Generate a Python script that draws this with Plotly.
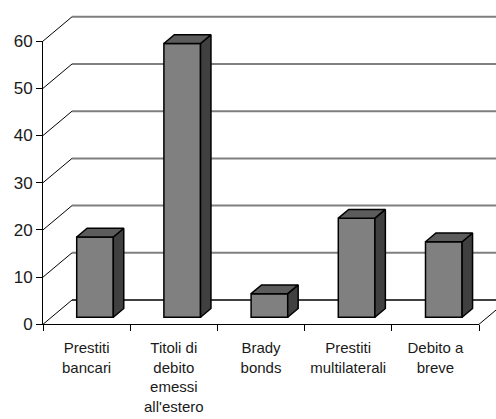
import plotly.graph_objects as go

# Composizione del debito estero
categories = ["Prestiti<br>bancari", "Titoli di<br>debito<br>emessi<br>all'estero",
              "Brady<br>bonds", "Prestiti<br>multilaterali", "Debito a<br>breve"]
values = [17, 58, 5, 21, 16]
y_ticks = [0, 10, 20, 30, 40, 50, 60]

W, H = 496, 419
PX_CAT = 87.2          # pixels per category slot
PX_UNIT = 4.72         # pixels per value unit
X0_PX, Y0_PX = 43, 324.3   # front-left corner of the floor

# oblique depth of the chart box, in data units
DX = 29 / PX_CAT
DY = 24.3 / PX_UNIT
# bar placement inside the depth and its own depth
BAR_D = 0.29
BAR_F = 0.36
BAR_W = 0.42

FRONT = "#808080"
SIDE = "#404040"
TOP = "#5c5c5c"
EDGE = "#000000"
FONT = "Liberation Sans, Arial, sans-serif"

n = len(categories)
fig = go.Figure()
shapes = []

def seg(x0, y0, x1, y1, color, width):
    shapes.append(dict(type="line", xref="x", yref="y", x0=x0, y0=y0, x1=x1, y1=y1,
                       layer="below", line=dict(color=color, width=width)))

# back wall gridlines
for v in y_ticks[1:]:
    seg(DX, v + DY, n + DX + 1, v + DY, "#7f7f7f", 2)
# floor back edge
seg(DX, DY, n + DX + 1, DY, EDGE, 1.5)
# side wall lines
for v in y_ticks:
    seg(0, v, DX, v + DY, EDGE, 1)
# floor right edge
seg(n, 0, n + DX, DY, EDGE, 1)

# bars: side and top faces as polygons, front faces as a bar trace
base = BAR_D * DY
ddx, ddy = BAR_F * DX, BAR_F * DY
centers = [i + 0.5 + BAR_D * DX for i in range(n)]
for c, v in zip(centers, values):
    xl, xr = c - BAR_W / 2, c + BAR_W / 2
    fig.add_trace(go.Scatter(
        x=[xr, xr + ddx, xr + ddx, xr, xr], y=[base, base + ddy, base + ddy + v, base + v, base],
        mode="lines", fill="toself", fillcolor=SIDE, line=dict(color=EDGE, width=1.5),
        hoverinfo="skip", showlegend=False))
    fig.add_trace(go.Scatter(
        x=[xl, xr, xr + ddx, xl + ddx, xl], y=[base + v, base + v, base + v + ddy, base + v + ddy, base + v],
        mode="lines", fill="toself", fillcolor=TOP, line=dict(color=EDGE, width=1.5),
        hoverinfo="skip", showlegend=False))

fig.add_trace(go.Bar(x=centers, y=values, base=base, width=BAR_W,
                     marker=dict(color=FRONT, line=dict(color=EDGE, width=1.5)),
                     showlegend=False))

# front axes
fig.add_trace(go.Scatter(x=[0, n], y=[0, 60], xaxis="x2", yaxis="y2", mode="markers",
                         marker=dict(opacity=0), hoverinfo="skip", showlegend=False))

fig.update_layout(
    template="none",
    width=W, height=H,
    margin=dict(l=0, r=0, t=0, b=0, pad=0),
    paper_bgcolor="white", plot_bgcolor="rgba(0,0,0,0)",
    font=dict(family=FONT, color="#1a1a1a"),
    shapes=shapes,
    xaxis=dict(range=[-X0_PX / PX_CAT, (W - X0_PX) / PX_CAT], visible=False,
               fixedrange=True, automargin=False),
    yaxis=dict(range=[(Y0_PX - H) / PX_UNIT, Y0_PX / PX_UNIT], visible=False,
               fixedrange=True, automargin=False),
    xaxis2=dict(domain=[X0_PX / W, (X0_PX + n * PX_CAT) / W], range=[0, n], anchor="y2",
                automargin=False, showline=True, linecolor="black", linewidth=1,
                showgrid=False, zeroline=False,
                tickmode="array", tickvals=[i + 0.5 for i in range(n)], ticktext=categories,
                ticks="", ticklabelstandoff=10, tickfont=dict(size=15, family=FONT),
                minor=dict(tickmode="array", tickvals=list(range(n + 1)), ticks="outside",
                           ticklen=6, tickcolor="black", showgrid=False)),
    yaxis2=dict(domain=[(H - Y0_PX) / H, (H - Y0_PX + 60 * PX_UNIT) / H], range=[0, 60],
                anchor="x2", automargin=False, showline=True, linecolor="black", linewidth=1,
                showgrid=False, zeroline=False, tickmode="array", tickvals=y_ticks,
                ticks="outside", ticklen=6, tickcolor="black",
                tickfont=dict(size=17, family=FONT)),
)

fig.write_html("out.html")
